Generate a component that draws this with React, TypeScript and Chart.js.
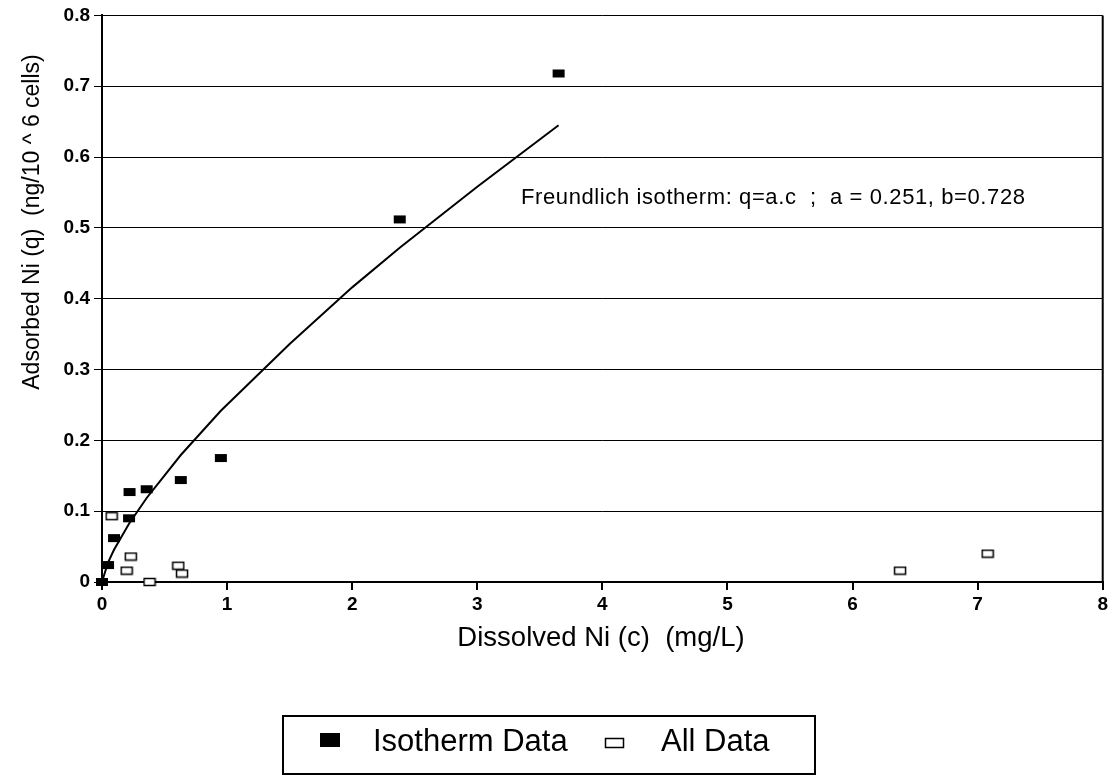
import React, { useEffect, useRef } from 'react';
import { Chart, registerables } from 'chart.js';

Chart.register(...registerables);

// Isotherm data (filled squares)
const isoC = [0, 0.048, 0.096, 0.216, 0.22, 0.357, 0.63, 0.95, 2.38, 3.65];
const isoQ = [0, 0.024, 0.062, 0.09, 0.127, 0.131, 0.144, 0.175, 0.512, 0.718];

// All data (open squares)
const allC = [0.077, 0.23, 0.197, 0.38, 0.61, 0.64, 6.38, 7.08];
const allQ = [0.093, 0.036, 0.016, 0.0, 0.023, 0.012, 0.016, 0.04];

// Freundlich fit curve
const fitC = [0, 0.048, 0.096, 0.216, 0.357, 0.63, 0.95, 1.5, 2.0, 2.38, 3.0, 3.65];
const fitQ = [0, 0.0275, 0.0456, 0.0823, 0.1186, 0.1793, 0.2418, 0.336, 0.416, 0.472, 0.558, 0.645];

const xTicks = [0, 1, 2, 3, 4, 5, 6, 7, 8];
const yTicks = [0, 0.1, 0.2, 0.3, 0.4, 0.5, 0.6, 0.7, 0.8];

const xTitle = 'Dissolved Ni (c)  (mg/L)';
const yTitle = 'Adsorbed Ni (q)  (ng/10 ^ 6 cells)';
const annotation = 'Freundlich isotherm: q=a.c  ;  a = 0.251, b=0.728';
const legendLabels = ['Isotherm Data', 'All Data'];

const FONT = "'Liberation Sans', Arial, Helvetica, sans-serif";

function makeMarker(w: number, h: number, filled: boolean): HTMLCanvasElement {
  const c = document.createElement('canvas');
  c.width = w + 2;
  c.height = h + 2;
  const g = c.getContext('2d')!;
  if (filled) {
    g.fillStyle = '#000';
    g.fillRect(1, 1, w, h);
  } else {
    g.fillStyle = '#fff';
    g.fillRect(1, 1, w, h);
    g.strokeStyle = '#000';
    g.lineWidth = 1.5;
    g.strokeRect(1.5, 1.5, w - 1, h - 1);
  }
  return c;
}

export default function App() {
  const ref = useRef<HTMLCanvasElement | null>(null);

  useEffect(() => {
    if (!ref.current) return;
    const filledMarker = makeMarker(12, 8, true);
    const openMarker = makeMarker(12, 8, false);
    const legFilled = makeMarker(20, 14, true);
    const legOpen = makeMarker(19, 10, false);

    const overlay = {
      id: 'overlay',
      afterDraw(chart: any) {
        const ctx = chart.ctx as CanvasRenderingContext2D;
        const a = chart.chartArea;
        const xs = chart.scales.x;
        const ys = chart.scales.y;
        ctx.save();
        // right border
        ctx.strokeStyle = '#000';
        ctx.lineWidth = 2;
        ctx.beginPath();
        ctx.moveTo(a.right, a.top);
        ctx.lineTo(a.right, a.bottom);
        ctx.stroke();
        // annotation
        ctx.fillStyle = '#000';
        ctx.font = `22px ${FONT}`;
        (ctx as any).letterSpacing = '0.6px';
        ctx.textAlign = 'left';
        ctx.textBaseline = 'middle';
        ctx.fillText(annotation, xs.getPixelForValue(3.35), ys.getPixelForValue(0.542));
        (ctx as any).letterSpacing = '0px';
        // x title
        ctx.font = `27.5px ${FONT}`;
        ctx.textAlign = 'center';
        ctx.fillText(xTitle, 601, 638);
        // y title
        ctx.save();
        ctx.translate(33, 222);
        ctx.rotate(-Math.PI / 2);
        ctx.font = `23px ${FONT}`;
        ctx.fillText(yTitle, 0, 0);
        ctx.restore();
        // legend box
        ctx.lineWidth = 2;
        ctx.strokeRect(283, 716, 532, 58);
        ctx.drawImage(legFilled, 319, 732);
        ctx.font = `31px ${FONT}`;
        ctx.textAlign = 'left';
        ctx.fillText(legendLabels[0], 373, 742);
        ctx.drawImage(legOpen, 604, 737);
        ctx.fillText(legendLabels[1], 661, 742);
        ctx.restore();
      },
    };

    const chart = new Chart(ref.current, {
      type: 'scatter',
      data: {
        datasets: [
          {
            type: 'line',
            label: 'fit',
            data: fitC.map((c, i) => ({ x: c, y: fitQ[i] })),
            borderColor: '#000',
            borderWidth: 2,
            pointRadius: 0,
            tension: 0,
            fill: false,
            order: 3,
          } as any,
          {
            label: legendLabels[1],
            data: allC.map((c, i) => ({ x: c, y: allQ[i] })),
            pointStyle: openMarker,
            clip: false,
            order: 2,
          } as any,
          {
            label: legendLabels[0],
            data: isoC.map((c, i) => ({ x: c, y: isoQ[i] })),
            pointStyle: filledMarker,
            clip: false,
            order: 1,
          } as any,
        ],
      },
      options: {
        animation: false,
        responsive: true,
        maintainAspectRatio: false,
        layout: { padding: { left: 0, right: 7, top: 15, bottom: 0 } },
        plugins: {
          legend: { display: false },
          tooltip: { enabled: false },
        },
        scales: {
          x: {
            type: 'linear',
            min: 0,
            max: 8,
            afterBuildTicks: (s: any) => {
              s.ticks = xTicks.map((v) => ({ value: v }));
            },
            afterFit: (s: any) => {
              s.height = 194;
            },
            grid: {
              drawOnChartArea: false,
              drawTicks: true,
              tickLength: 8,
              color: '#000',
              lineWidth: 2,
            },
            border: { display: true, color: '#000', width: 2 },
            ticks: {
              color: '#000',
              padding: 3,
              font: { family: FONT, size: 19, weight: 'bold' },
              maxRotation: 0,
            },
          },
          y: {
            type: 'linear',
            min: 0,
            max: 0.8,
            afterBuildTicks: (s: any) => {
              s.ticks = yTicks.map((v) => ({ value: v }));
            },
            afterFit: (s: any) => {
              s.width = 102;
            },
            grid: {
              drawOnChartArea: true,
              drawTicks: true,
              tickLength: 8,
              color: '#000',
              lineWidth: 1,
            },
            border: { display: true, color: '#000', width: 2 },
            ticks: {
              color: '#000',
              padding: 4,
              font: { family: FONT, size: 19, weight: 'bold' },
              callback: (v: any) => (v === 0 ? '0' : Number(v).toFixed(1)),
            },
          },
        },
      },
      plugins: [overlay],
    });
    return () => chart.destroy();
  }, []);

  return (
    <div style={{ position: 'fixed', left: 0, top: 0, width: 1111, height: 776, background: '#fff' }}>
      <canvas ref={ref} />
    </div>
  );
}
